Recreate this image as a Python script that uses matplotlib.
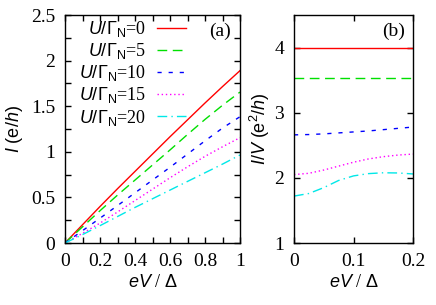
import matplotlib.pyplot as plt
from matplotlib.ticker import MultipleLocator
import numpy as np

plt.rcParams['font.family'] = 'Liberation Serif'
plt.rcParams['mathtext.fontset'] = 'custom'
plt.rcParams['mathtext.rm'] = 'Liberation Sans'
plt.rcParams['mathtext.it'] = 'Liberation Sans:italic'
plt.rcParams['mathtext.bf'] = 'Liberation Sans:bold'

# (a) I-V curves
eV_a = [0, 0.1, 0.2, 0.3, 0.4, 0.5, 0.6, 0.7, 0.8, 0.9, 1.0]
I_u0 = [0, 0.20, 0.40, 0.595, 0.785, 0.975, 1.165, 1.35, 1.535, 1.715, 1.89]
I_u5 = [0, 0.177, 0.354, 0.525, 0.69, 0.855, 1.02, 1.19, 1.355, 1.51, 1.655]
I_u10 = [0, 0.135, 0.272, 0.41, 0.55, 0.69, 0.83, 0.975, 1.12, 1.26, 1.385]
I_u15 = [0, 0.106, 0.218, 0.34, 0.465, 0.59, 0.715, 0.835, 0.95, 1.055, 1.155]
I_u20 = [0, 0.092, 0.19, 0.29, 0.39, 0.485, 0.58, 0.675, 0.77, 0.865, 0.965]

# (b) conductance I/V
eV_b = [0, 0.025, 0.05, 0.075, 0.1, 0.125, 0.15, 0.175, 0.2]
G_u0 = [4.0] * 9
G_u5 = [3.54] * 9
G_u10 = [2.66, 2.665, 2.675, 2.69, 2.705, 2.72, 2.74, 2.76, 2.78]
G_u15 = [2.05, 2.07, 2.12, 2.18, 2.24, 2.29, 2.325, 2.35, 2.365]
G_u20 = [1.72, 1.76, 1.85, 1.96, 2.03, 2.065, 2.078, 2.075, 2.06]

labels = [r'$U/\Gamma_{\rm N}$=0', r'$U/\Gamma_{\rm N}$=5', r'$U/\Gamma_{\rm N}$=10',
          r'$U/\Gamma_{\rm N}$=15', r'$U/\Gamma_{\rm N}$=20']
colors = ['#ff0000', '#00e000', '#0000ff', '#ff00ff', '#00e8e8']
styles = ['-', (0, (7, 4)), (0, (3, 5)), (0, (1, 2)), (0, (7, 3, 1, 3))]

fig = plt.figure(figsize=(4.36, 3.05), dpi=100)
ax1 = fig.add_axes([65/436, 62/305, 175/436, 228/305])
ax2 = fig.add_axes([294/436, 62/305, 119/436, 228/305])

I_all = [I_u0, I_u5, I_u10, I_u15, I_u20]
G_all = [G_u0, G_u5, G_u10, G_u15, G_u20]
for i in range(5):
    ax1.plot(eV_a, I_all[i], color=colors[i], linestyle=styles[i], lw=1, label=labels[i])
    ax2.plot(eV_b, G_all[i], color=colors[i], linestyle=styles[i], lw=1)

fs = 13
tfs = 14
ax1.set_xlim(0, 1)
ax1.set_ylim(0, 2.5)
ax1.xaxis.set_minor_locator(MultipleLocator(0.1))
ax1.yaxis.set_minor_locator(MultipleLocator(0.25))
ax1.set_xticks([0, 0.2, 0.4, 0.6, 0.8, 1])
ax1.set_xticklabels(['0', '0.2', '0.4', '0.6', '0.8', '1'])
ax1.set_yticks([0, 0.5, 1, 1.5, 2, 2.5])
ax1.set_yticklabels(['0', '0.5', '1', '1.5', '2', '2.5'])

ax2.set_xlim(0, 0.2)
ax2.set_ylim(1, 4.5)
ax2.set_xticks([0, 0.1, 0.2])
ax2.set_xticklabels(['0', '0.1', '0.2'])
ax2.set_yticks([1, 2, 3, 4])
ax2.set_yticklabels(['1', '2', '3', '4'])

for ax in (ax1, ax2):
    ax.tick_params(which='both', direction='in', top=True, right=True,
                   length=4, width=1, labelsize=tfs, pad=7)
    for s in ax.spines.values():
        s.set_linewidth(1)

ax1.set_xlabel(r'$eV$ / $\Delta$', fontsize=fs, labelpad=3)
ax2.set_xlabel(r'$eV$ / $\Delta$', fontsize=fs, labelpad=3)
ax1.set_ylabel(r'$I\ (\mathrm{e}/h)$', fontsize=fs, labelpad=4)
ax2.set_ylabel(r'$I/V\ (\mathrm{e}^2/h)$', fontsize=fs, labelpad=2)

ax1.text(0.95, 0.93, '(a)', transform=ax1.transAxes, ha='right', va='center', fontsize=tfs)
ax2.text(0.93, 0.93, '(b)', transform=ax2.transAxes, ha='right', va='center', fontsize=tfs)

leg = ax1.legend(loc='upper left', bbox_to_anchor=(0.02, 1.03), frameon=False,
                 markerfirst=False, fontsize=fs, handlelength=1.6,
                 handletextpad=0.6, labelspacing=0.12, borderaxespad=0.2)
# right-align the rows like gnuplot's key
for col in leg._legend_handle_box.get_children():
    col.align = 'right'

fig.savefig('out.png', dpi=100)
